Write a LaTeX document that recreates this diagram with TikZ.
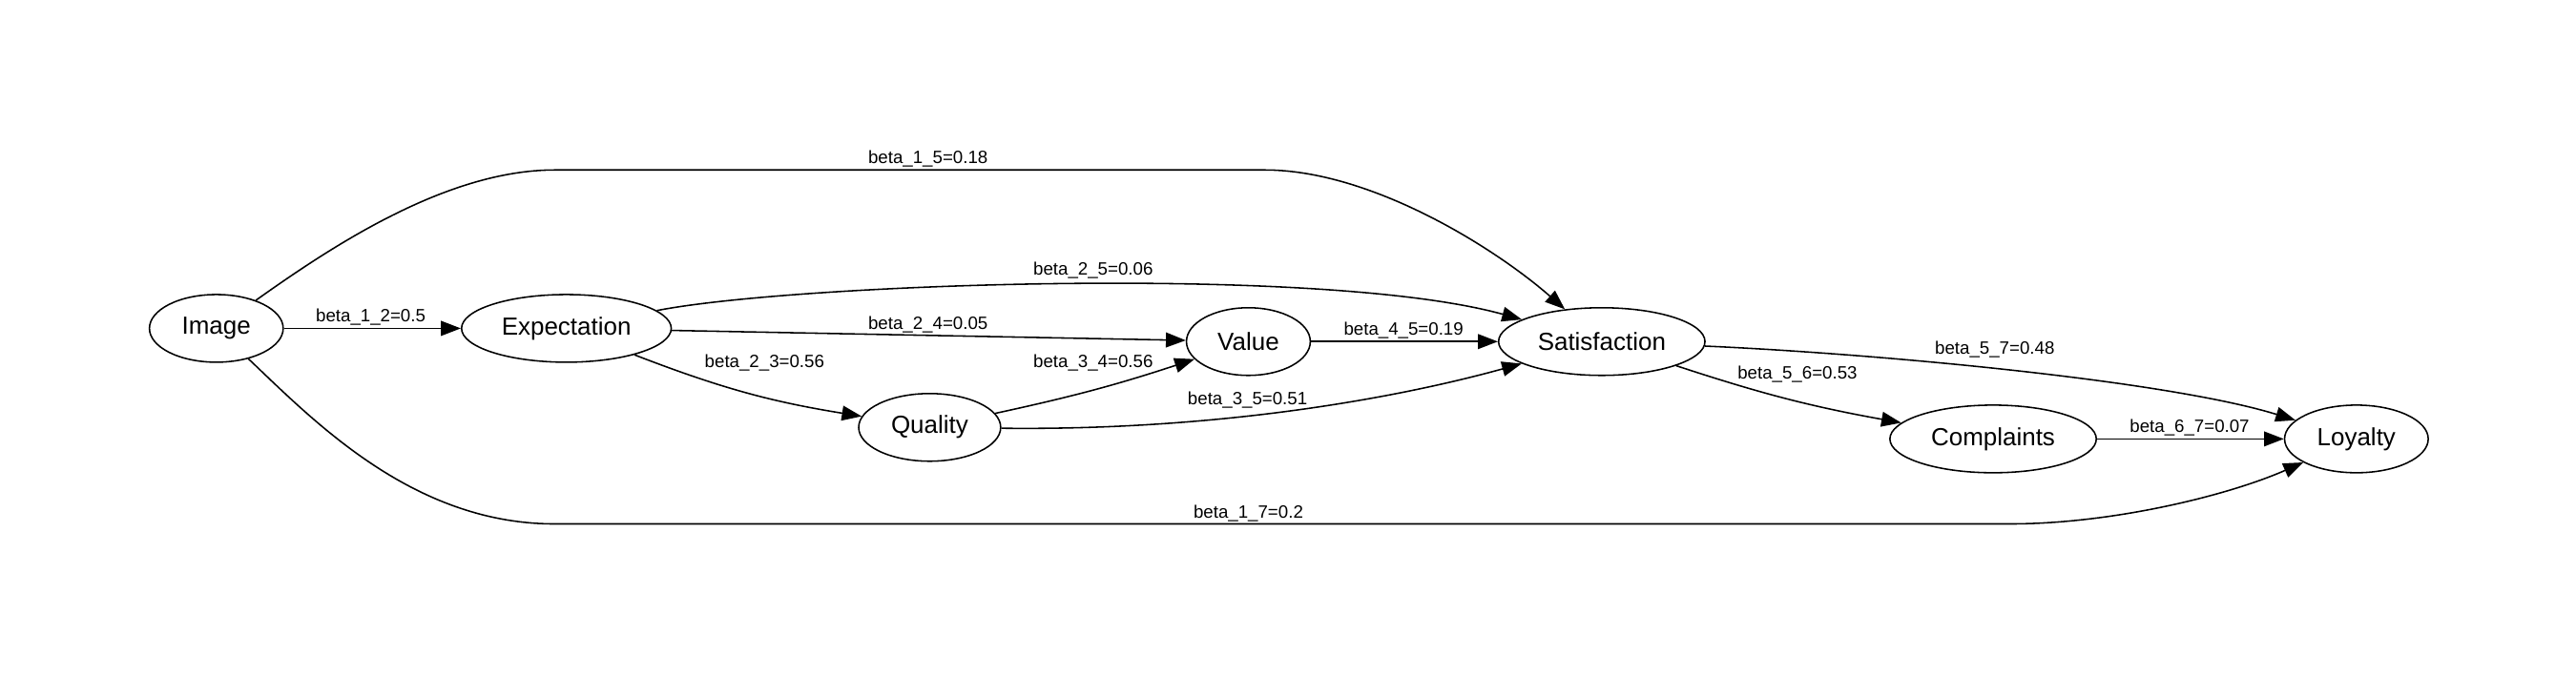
\documentclass[tikz,border=0pt]{standalone}
\usepackage{fontspec}
\setmainfont{Liberation Sans}
\usetikzlibrary{positioning, arrows.meta, shapes.geometric}

\begin{document}
\begin{tikzpicture}[x=1pt, y=-1pt,
    state/.style={ellipse, draw, line width=0.9pt, minimum height=41pt, inner sep=0pt, font=\fontsize{15}{17}\selectfont},
    coef/.style={font=\fontsize{10.8}{12}\selectfont, inner sep=0pt},
    edge/.style={-{Triangle[length=12pt, width=9pt]}, line width=0.9pt}]
	\useasboundingbox (0,0) rectangle (1560,409);

	\node[state, minimum width=81pt] (img) at (131,199) {Image};
	\node[state, minimum width=127pt] (exp) at (343,199) {Expectation};
	\node[state, minimum width=86pt] (qua) at (563,259) {Quality};
	\node[state, minimum width=75pt] (val) at (756,207) {Value};
	\node[state, minimum width=125pt] (sat) at (970,207) {Satisfaction};
	\node[state, minimum width=125pt] (com) at (1207,266) {Complaints};
	\node[state, minimum width=87pt] (loy) at (1427,266) {Loyalty};

	\draw[edge] (img) edge (exp);
	\draw[edge] (exp) edge (val);
	\draw[edge] (val) edge (sat);
	\draw[edge] (com) edge (loy);

	\draw[edge] (img) .. controls (200,150) and (270,103) .. (336,103) -- (766,103) .. controls (830,103) and (905,150) .. (sat);
	\draw[edge] (img) .. controls (190,255) and (250,317.5) .. (336,317.5) -- (1217,317.5) .. controls (1280,317.5) and (1350,300) .. (loy);
	\draw[edge] (exp) .. controls (480,172) and (800,160) .. (sat);
	\draw[edge] (exp) to[bend right=6] (qua);
	\draw[edge] (qua) to[bend right=3] (val);
	\draw[edge] (qua) .. controls (730,261) and (838,243.4) .. (sat);
	\draw[edge] (sat) .. controls (1130,214) and (1310,230) .. (loy);
	\draw[edge] (sat) to[bend right=4] (com);

	\node[coef] (l12) at (224.5,192) {beta\_1\_2=0.5};
	\node[coef] (l15) at (562,96) {beta\_1\_5=0.18};
	\node[coef] (l25) at (662,164) {beta\_2\_5=0.06};
	\node[coef] (l24) at (562,196.5) {beta\_2\_4=0.05};
	\node[coef] (l23) at (463,220) {beta\_2\_3=0.56};
	\node[coef] (l34) at (662,220) {beta\_3\_4=0.56};
	\node[coef] (l35) at (755.5,242.5) {beta\_3\_5=0.51};
	\node[coef] (l45) at (850,200) {beta\_4\_5=0.19};
	\node[coef] (l57) at (1208,212) {beta\_5\_7=0.48};
	\node[coef] (l56) at (1088.5,227) {beta\_5\_6=0.53};
	\node[coef] (l67) at (1326,259) {beta\_6\_7=0.07};
	\node[coef] (l17) at (756,311) {beta\_1\_7=0.2};
\end{tikzpicture}
\end{document}
